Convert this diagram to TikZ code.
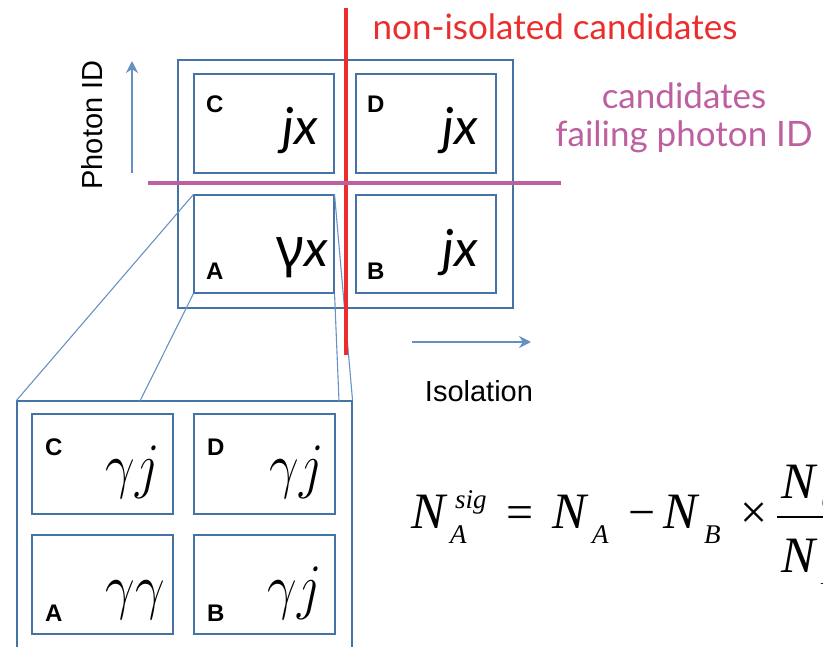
\documentclass[tikz,border=0pt]{standalone}
\usepackage{fix-cm}
\usepackage{fontspec}
\setmainfont{Liberation Sans}
\newfontfamily\gill{Lato}
\newfontfamily\grk{Noto Sans}
\newfontfamily\tms{Liberation Serif}
\usetikzlibrary{arrows.meta}
\definecolor{boxblue}{RGB}{70,115,165}
\definecolor{linkblue}{RGB}{105,145,195}
\definecolor{arrowblue}{RGB}{100,145,195}
\definecolor{isored}{RGB}{235,45,45}
\definecolor{idmag}{RGB}{190,95,160}
\newcommand{\gm}[1]{\scalebox{0.85}[1]{$#1$}}
\begin{document}
\begin{tikzpicture}[x=1pt,y=-1pt,
  cell/.style={draw=boxblue, line width=1.1pt, inner sep=0pt, minimum width=#1},
  link/.style={draw=linkblue, line width=1.1pt},
  letter/.style={font=\fontsize{24}{24}\selectfont\bfseries, text=black, inner sep=0pt, anchor=base west},
  topcontent/.style={font=\fontsize{51}{51}\gill\itshape, inner sep=0pt, anchor=base east},
  botcontent/.style={font=\fontsize{62}{62}\selectfont, inner sep=0pt, anchor=base east},
  axisarrow/.style={draw=arrowblue, line width=1.8pt, -{Stealth[length=12pt,width=12pt]}},
  axislabel/.style={font=\fontsize{29}{29}\selectfont, inner sep=0pt},
  eqbig/.style={font=\fontsize{51}{51}\tms\itshape, inner sep=0pt, anchor=base west},
  eqsub/.style={font=\fontsize{27}{27}\tms\itshape, inner sep=0pt, anchor=base west},
  eqop/.style={font=\fontsize{48}{48}\tms, inner sep=0pt, anchor=base west}
]
\useasboundingbox (0,0) rectangle (823,647);
\clip (0,0) rectangle (823,647);

% top outer box and cells
\node[cell=335pt, minimum height=248pt] (T) at (345.5,184) {};
\node[cell=140pt, minimum height=99pt] (C) at (264,123.5) {};
\node[cell=140pt, minimum height=99pt] (D) at (426,123.5) {};
\node[cell=140pt, minimum height=98pt] (A) at (264,244) {};
\node[cell=140pt, minimum height=98pt] (B) at (426,244) {};

% bottom (zoomed) outer box and cells
\node[cell=335pt, minimum height=248pt] (Z) at (184.5,525) {};
\node[cell=141pt, minimum height=100pt] (C2) at (102.5,464) {};
\node[cell=141pt, minimum height=100pt] (D2) at (264.5,464) {};
\node[cell=141pt, minimum height=99pt] (A2) at (102.5,584.5) {};
\node[cell=141pt, minimum height=99pt] (B2) at (264.5,584.5) {};

% zoom connectors
\coordinate (zl) at (140,401);
\coordinate (zr) at (339,401);
\draw[link] (A.north west) -- (Z.north west);
\draw[link] (A.south west) -- (zl);
\draw[link] (A.north east) -- (Z.north east);
\draw[link] (A.south east) -- (zr);

% cut lines
\coordinate (rt) at (346,8);
\coordinate (rb) at (346,355);
\coordinate (ml) at (148,183);
\coordinate (mr) at (561,183);
\draw[isored, line width=4pt] (rt) -- (rb);
\draw[idmag, line width=4pt] (ml) -- (mr);

% labels of cut lines
\node[font=\fontsize{35}{35}\gill, text=isored, inner sep=0pt] (niso) at (555,27) {non-isolated candidates};
\node[font=\fontsize{35}{38}\gill, text=idmag, align=center, inner sep=0pt] (fail) at (684,118) {candidates\\failing photon ID};

% axes
\coordinate (pa0) at (132,173);
\coordinate (pa1) at (132,61);
\draw[axisarrow] (pa0) -- (pa1);
\node[axislabel, rotate=90] (pid) at (92,125) {Photon ID};
\coordinate (ia0) at (412,342);
\coordinate (ia1) at (531,342);
\draw[axisarrow] (ia0) -- (ia1);
\node[axislabel] (iso) at (479,391) {Isolation};

% region letters (top)
\node[letter] (lC) at (206,113) {C};
\node[letter] (lD) at (367,113) {D};
\node[letter] (lA) at (206,280) {A};
\node[letter] (lB) at (367,280) {B};
% region contents (top)
\node[topcontent] (cC) at (318,145) {jx};
\node[topcontent] (cD) at (478,145) {jx};
\node[topcontent] (cA) at (328,267) {{\grk\upshape\fontsize{54}{54}\selectfont γ}x};
\node[topcontent] (cB) at (478,267) {jx};

% region letters (bottom)
\node[letter] (lC2) at (45,455) {C};
\node[letter] (lD2) at (207,455) {D};
\node[letter] (lA2) at (45,621) {A};
\node[letter] (lB2) at (207,621) {B};
% region contents (bottom)
\node[botcontent] (cC2) at (160,486) {\gm{\gamma j}};
\node[botcontent] (cD2) at (324,486) {\gm{\gamma j}};
\node[botcontent] (cA2) at (165,607) {\gm{\gamma\gamma}};
\node[botcontent] (cB2) at (322,607) {\gm{\gamma j}};

% formula
\node[eqbig] (n1) at (411,528) {N};
\node[eqsub] (s1) at (455,508) {sig};
\node[eqsub] (a1) at (450,543) {A};
\node[eqop] (eq) at (506,528) {=};
\node[eqbig] (n2) at (552,528) {N};
\node[eqsub] (a2) at (592,543) {A};
\node[eqop] (mi) at (628,528) {−};
\node[eqbig] (n3) at (663,528) {N};
\node[eqsub] (b3) at (704,543) {B};
\node[eqop] (ti) at (740,528) {×};
\coordinate (fb0) at (777,517);
\coordinate (fb1) at (830,517);
\draw[line width=2pt] (fb0) -- (fb1);
\node[eqbig] (n4) at (781,498) {N};
\node[eqsub] (c4) at (821,510) {C};
\node[eqbig] (n5) at (781,572) {N};
\node[eqsub] (d5) at (821,584) {D};
\end{tikzpicture}
\end{document}
